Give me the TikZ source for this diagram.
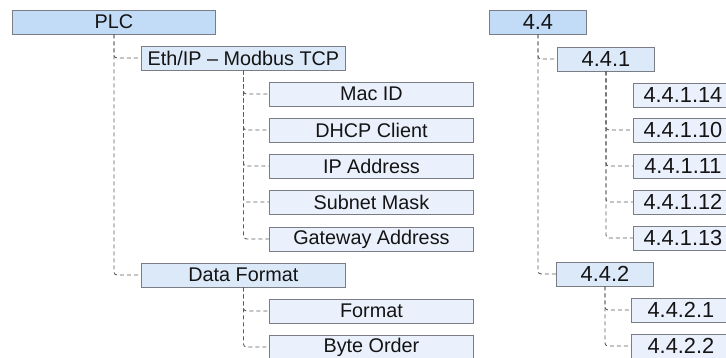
\documentclass[tikz,border=0pt]{standalone}
\usepackage{fontspec}
\setmainfont{Liberation Sans}
\definecolor{boxline}{HTML}{7A7E84}
\definecolor{fillA}{HTML}{C2DCF7}
\definecolor{fillB}{HTML}{DCE9F9}
\definecolor{fillC}{HTML}{EAF1FC}
\definecolor{conncol}{HTML}{5A5A5A}
\definecolor{txtcol}{HTML}{141414}
\tikzset{
  menubox/.style={draw=boxline, line width=0.9pt, inner sep=0pt, anchor=west,
    minimum height=24pt, text=txtcol},
  lefttxt/.style={font=\fontsize{19.8}{20}\selectfont},
  righttxt/.style={font=\fontsize{21.8}{22}\selectfont},
  lvla/.style={menubox, fill=fillA},
  lvlb/.style={menubox, fill=fillB},
  lvlc/.style={menubox, fill=fillC},
  conn/.style={draw=conncol, line width=0.85pt, dash pattern=on 4pt off 3pt,
    rounded corners=3pt}
}
\begin{document}
\begin{tikzpicture}[x=1pt, y=-1pt]
  \useasboundingbox (0,0) rectangle (726,358);
  \clip (0,0) rectangle (726,358);
  % PLC menu tree
  \node[lvla, lefttxt, minimum width=203pt] (plc) at (12,22) {PLC};
  \node[lvlb, lefttxt, minimum width=204pt] (eth) at (141,58) {Eth/IP -- Modbus TCP};
  \node[lvlc, lefttxt, minimum width=204pt] (macid) at (269,94) {Mac ID};
  \node[lvlc, lefttxt, minimum width=204pt] (dhcp) at (269,130) {DHCP Client};
  \node[lvlc, lefttxt, minimum width=204pt] (ipaddr) at (269,166) {IP Address};
  \node[lvlc, lefttxt, minimum width=204pt] (subnet) at (269,202) {Subnet Mask};
  \node[lvlc, lefttxt, minimum width=204pt] (gateway) at (269,239) {Gateway Address};
  \node[lvlb, lefttxt, minimum width=204pt] (datafmt) at (141,275) {Data Format};
  \node[lvlc, lefttxt, minimum width=204pt] (fmt) at (269,311) {Format};
  \node[lvlc, lefttxt, minimum width=204pt] (byteorder) at (269,347) {Byte Order};
  % PLC connectors
  \foreach \c in {eth, datafmt}
    \draw[conn] (plc.south) |- (\c.west);
  \foreach \c in {macid, dhcp, ipaddr, subnet, gateway}
    \draw[conn] (eth.south) |- (\c.west);
  \foreach \c in {fmt, byteorder}
    \draw[conn] (datafmt.south) |- (\c.west);
  % Section number tree
  \node[lvla, righttxt, minimum width=97pt] (r44) at (489,22) {4.4};
  \node[lvlb, righttxt, minimum width=97pt] (r441) at (557,59) {4.4.1};
  \node[lvlc, righttxt, minimum width=99pt] (r44114) at (633,95) {4.4.1.14};
  \node[lvlc, righttxt, minimum width=99pt] (r44110) at (633,130) {4.4.1.10};
  \node[lvlc, righttxt, minimum width=99pt] (r44111) at (633,166) {4.4.1.11};
  \node[lvlc, righttxt, minimum width=99pt] (r44112) at (633,202) {4.4.1.12};
  \node[lvlc, righttxt, minimum width=99pt] (r44113) at (633,238) {4.4.1.13};
  \node[lvlb, righttxt, minimum width=97pt] (r442) at (556,274) {4.4.2};
  \node[lvlc, righttxt, minimum width=99pt] (r4421) at (631,310) {4.4.2.1};
  \node[lvlc, righttxt, minimum width=99pt] (r4422) at (631,346) {4.4.2.2};
  % Section connectors
  \foreach \c in {r441, r442}
    \draw[conn] (r44.south) |- (\c.west);
  \foreach \c in {r44110, r44111, r44112, r44113}
    \draw[conn] (r441.south) |- (\c.west);
  \foreach \c in {r4421, r4422}
    \draw[conn] (r442.south) |- (\c.west);
\end{tikzpicture}
\end{document}
